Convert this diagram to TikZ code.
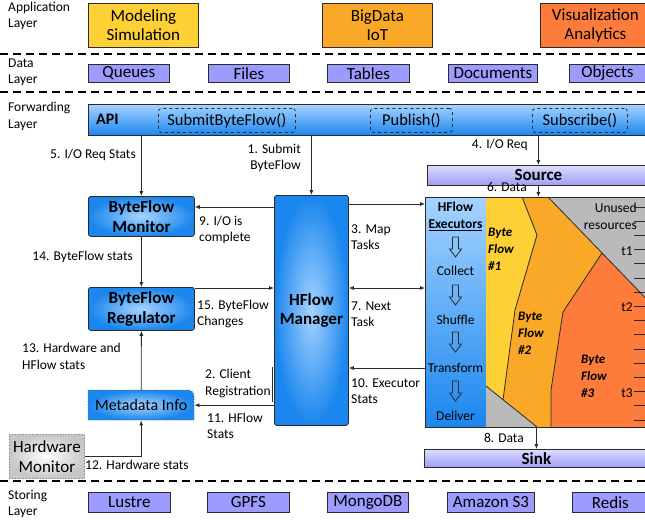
\documentclass[tikz,border=0pt]{standalone}
\usepackage{fontspec}
\setmainfont{Carlito}
\usetikzlibrary{arrows.meta}
\definecolor{cyel}{HTML}{FDD036}
\definecolor{corg}{HTML}{FAA827}
\definecolor{cred}{HTML}{FD7B3B}
\definecolor{cdata}{HTML}{9C9CFF}
\definecolor{cblue}{HTML}{1A86EE}
\definecolor{clblue}{HTML}{A6D3FF}
\definecolor{cgray}{HTML}{BABABA}
\definecolor{cptop}{HTML}{DCDCFF}
\definecolor{cpbot}{HTML}{9E9EF4}
\definecolor{cline}{HTML}{2A2A2A}
\begin{document}
\begin{tikzpicture}[x=1pt,y=-1pt,>={Latex[length=5pt,width=4pt]}]
\tikzset{
 lab/.style={font=\fontsize{13.5}{16.5}\selectfont, inner sep=0pt},
 laylab/.style={anchor=west, inner sep=0pt, align=left, font=\fontsize{13.5}{16.5}\selectfont},
 box/.style={draw=cline, line width=0.8pt, inner sep=0pt, anchor=north west},
 appbox/.style={box, minimum width=110pt, minimum height=44pt, align=center, font=\fontsize{17}{19.5}\selectfont},
 databox/.style={box, fill=cdata, minimum height=18pt, font=\fontsize{17}{19}\selectfont},
 bluebox/.style={box, rounded corners=2.5pt, shading=radial, inner color=clblue, outer color=cblue, align=center, font=\bfseries\fontsize{17}{19.5}\selectfont},
 dashbox/.style={draw=cline, dashed, line width=0.8pt, rounded corners=3pt, inner sep=0pt, anchor=north west, minimum height=24pt, font=\fontsize{16.5}{18}\selectfont},
 purbox/.style={box, top color=cptop, bottom color=cpbot, font=\bfseries\fontsize{17}{19}\selectfont},
 arr/.style={->, line width=0.8pt, draw=cline},
 layerline/.style={dash pattern=on 8pt off 5pt, line width=1.6pt},
 bnd/.style={line width=0.8pt, draw=cline},
 flowlab/.style={anchor=west, align=left, inner sep=0pt, font=\bfseries\itshape\fontsize{13}{17}\selectfont},
 exlab/.style={inner sep=0pt, font=\fontsize{13.5}{16}\selectfont},
 darr/.pic={\draw[line width=0.8pt, draw=cline] (-3,-10) -- (3,-10) -- (3,2) -- (6,2) -- (0,10) -- (-6,2) -- (-3,2) -- cycle;}
}
\clip (0,0) rectangle (645,523);
\fill[white] (0,0) rectangle (645,523);

% layer labels and separators
\node[laylab] (lapp) at (8,16) {Application\\Layer};
\node[laylab] (ldat) at (8,72.5) {Data\\Layer};
\node[laylab] (lfwd) at (8,116.5) {Forwarding\\Layer};
\node[laylab] (lsto) at (8,504) {Storing\\Layer};
\draw[layerline] (0,54) -- (650,54);
\draw[layerline] (0,92) -- (650,92);
\draw[layerline] (0,481) -- (650,481);

% application layer
\node[appbox, fill=cyel] (app1) at (88,3) {Modeling\\Simulation};
\node[appbox, fill=corg] (app2) at (322,3) {BigData\\IoT};
\node[appbox, fill=cred] (app3) at (540,3) {Visualization\\Analytics};

% data layer
\node[databox, minimum width=81pt] (d1) at (88,64) {Queues};
\node[databox, minimum width=81pt] (d2) at (208,64) {Files};
\node[databox, minimum width=82pt] (d3) at (327,64) {Tables};
\node[databox, minimum width=89pt] (d4) at (448,64) {Documents};
\node[databox, minimum width=76pt] (d5) at (569,64) {Objects};

% storing layer
\node[databox, minimum width=82pt, minimum height=20pt] (s1) at (88,492) {Lustre};
\node[databox, minimum width=82pt, minimum height=20pt] (s2) at (207,492) {GPFS};
\node[databox, minimum width=81pt, minimum height=20pt] (s3) at (327,492) {MongoDB};
\node[databox, minimum width=87pt, minimum height=20pt] (s4) at (447,492) {Amazon S3};
\node[databox, minimum width=76pt, minimum height=20pt] (s5) at (572,492) {Redis};

% API bar
\node[box, top color=clblue, bottom color=cblue, minimum width=572pt, minimum height=31pt] (api) at (88,104) {};
\node[anchor=west, inner sep=0pt, font=\bfseries\fontsize{16}{18}\selectfont] (apit) at (96,119.5) {API};
\node[dashbox, minimum width=137pt] (f1) at (158,108) {SubmitByteFlow()};
\node[dashbox, minimum width=82pt] (f2) at (370,108) {Publish()};
\node[dashbox, minimum width=95pt] (f3) at (532,108) {Subscribe()};

% source / sink
\node[purbox, minimum width=222pt, minimum height=20pt] (src) at (427,165) {Source};
\node[purbox, minimum width=224pt, minimum height=18pt] (sink) at (424,449) {Sink};

% control boxes
\node[bluebox, minimum width=106pt, minimum height=40pt] (mon) at (88,196) {ByteFlow\\Monitor};
\node[bluebox, minimum width=106pt, minimum height=43pt] (reg) at (88,287) {ByteFlow\\Regulator};
\node[bluebox, minimum width=74pt, minimum height=230pt] (man) at (274,195) {HFlow\\Manager};

% metadata info
\path[draw=cline!70, dotted, line width=0.9pt, shading=radial, inner color=clblue, outer color=cblue]
  (88,405) -- (88,390) [rounded corners=6pt] -- (194,390) [sharp corners] -- (194,420) -- (88,420) -- cycle;
\node[anchor=north west, inner sep=0pt, minimum width=106pt, minimum height=30pt, font=\fontsize{16}{18}\selectfont] (meta) at (88,390) {Metadata Info};

% hardware monitor
\node[box, draw=gray, dotted, line width=0.9pt, shading=radial, inner color=white, outer color=black!22, minimum width=75pt, minimum height=44pt, align=center, font=\fontsize{17}{20}\selectfont] (hw) at (9,434) {Hardware\\Monitor};

% executors area
\node[anchor=north west, inner sep=0pt, minimum width=61pt, minimum height=230pt, top color=clblue, bottom color=cblue] (col) at (425,197) {};
\fill[cyel] (486,197) -- (522,197) -- (537,235) -- (515,310) -- (503,400) -- (486,386) -- cycle;
\fill[corg] (522,197) -- (548,197) -- (602,253) -- (563,312) -- (551,390) -- (551,427) -- (537,427) -- (503,400) -- (515,310) -- (537,235) -- cycle;
\fill[cred] (602,253) -- (660,313) -- (660,427) -- (551,427) -- (551,390) -- (563,312) -- cycle;
\fill[cgray] (548,197) -- (660,197) -- (660,313) -- cycle;
\fill[cgray] (486,386) -- (537,427) -- (486,427) -- cycle;
\draw[bnd] (522,197) -- (537,235) -- (515,310) -- (503,400);
\draw[bnd] (602,253) -- (563,312) -- (551,390) -- (551,427);
\draw[bnd] (548,197) -- (660,313);
\draw[bnd] (486,386) -- (537,427);
\node[box, line width=0.9pt, minimum width=235pt, minimum height=230pt] (exec) at (425,197) {};

\node[exlab, font=\bfseries\fontsize{13.5}{16}\selectfont] (exh) at (455.5,207) {HFlow};
\node[exlab, font=\bfseries\fontsize{13.5}{16}\selectfont] (exe) at (455.5,225) {\underline{Executors}};
\pic at (455.5,247) {darr};
\node[exlab] (ex1) at (455.5,271) {Collect};
\pic at (455.5,295) {darr};
\node[exlab] (ex2) at (455.5,320) {Shuffle};
\pic at (455.5,342) {darr};
\node[exlab] (ex3) at (455.5,368) {Transform};
\pic at (455.5,391) {darr};
\node[exlab] (ex4) at (455.5,416) {Deliver};

\node[flowlab] (bf1) at (488,249) {Byte\\Flow\\\#1};
\node[flowlab] (bf2) at (518,333) {Byte\\Flow\\\#2};
\node[flowlab] (bf3) at (581,376) {Byte\\Flow\\\#3};

\node[lab, anchor=east, align=right] (unused) at (637,216.5) {Unused\\resources};
\node[lab, anchor=east] (t1) at (633,251) {t1};
\node[lab, anchor=east] (t2) at (633,307) {t2};
\node[lab, anchor=east] (t3) at (633,393) {t3};
\foreach \k in {0,...,15}{
  \pgfmathsetmacro\ty{207+14.2*\k}
  \draw[line width=0.8pt, draw=cline] (634,\ty) -- (647,\ty);
}

% helper levels
\coordinate (yA) at (0,207);
\coordinate (yB) at (0,204);
\coordinate (yC) at (0,288);
\coordinate (yD) at (0,368);
\coordinate (yS1) at (0,367);
\coordinate (yS2) at (0,402);

% connectors
\draw[arr] (api.south -| mon.north) -- (mon.north);
\draw[arr] (api.south -| man.north) -- (man.north);
\draw[arr] (api.south -| src.north) -- (src.north);
\draw[arr] (src.south) -- (src.south |- exec.north);
\draw[arr] (man.west |- yA) -- (mon.east |- yA);
\draw[arr] (man.east |- yB) -- (exec.west |- yB);
\draw[arr] (mon.south) -- (reg.north);
\draw[arr] (reg.east |- yC) -- (man.west |- yC);
\draw[arr, <->] (man.east |- yC) -- (exec.west |- yC);
\draw[arr] (exec.west |- yD) -- (man.east |- yD);
\draw[arr] (man.west |- meta.east) -- (meta.east);
\draw[arr] (meta.north) -- (reg.south);
\draw[arr] (hw.east) -| (meta.south);
\draw[arr] (sink.north |- exec.south) -- (sink.north);
\draw[line width=1pt, draw=cline] ([xshift=-1.2pt]man.west |- yS1) -- ([xshift=-1.2pt]man.west |- yS2);

% connector labels
\node[lab, anchor=east] (l5) at (136,155) {5. I/O Req Stats};
\node[lab, anchor=east, align=right] (l1) at (301,158) {1. Submit\\ByteFlow};
\node[lab, anchor=east] (l4) at (528,145) {4. I/O Req};
\node[lab, anchor=east] (l6) at (527,187) {6. Data};
\node[lab, anchor=west, align=left] (l9) at (199,230) {9. I/O is\\complete};
\node[lab, anchor=west, align=left] (l3) at (351,237) {3. Map\\Tasks};
\node[lab, anchor=east] (l14) at (133,257) {14. ByteFlow stats};
\node[lab, anchor=west, align=left] (l15) at (197,314) {15. ByteFlow\\Changes};
\node[lab, anchor=west, align=left] (l7) at (351,314) {7. Next\\Task};
\node[lab, anchor=west, align=left] (l13) at (22,356.5) {13. Hardware and\\HFlow stats};
\node[lab, anchor=west, align=left] (l2) at (205,383.5) {2. Client\\Registration};
\node[lab, anchor=west, align=left] (l11) at (207,426) {11. HFlow\\Stats};
\node[lab, anchor=west, align=left] (l10) at (351,391) {10. Executor\\Stats};
\node[lab, anchor=west] (l12) at (85,465) {12. Hardware stats};
\node[lab, anchor=east] (l8) at (524,438) {8. Data};
\end{tikzpicture}
\end{document}
